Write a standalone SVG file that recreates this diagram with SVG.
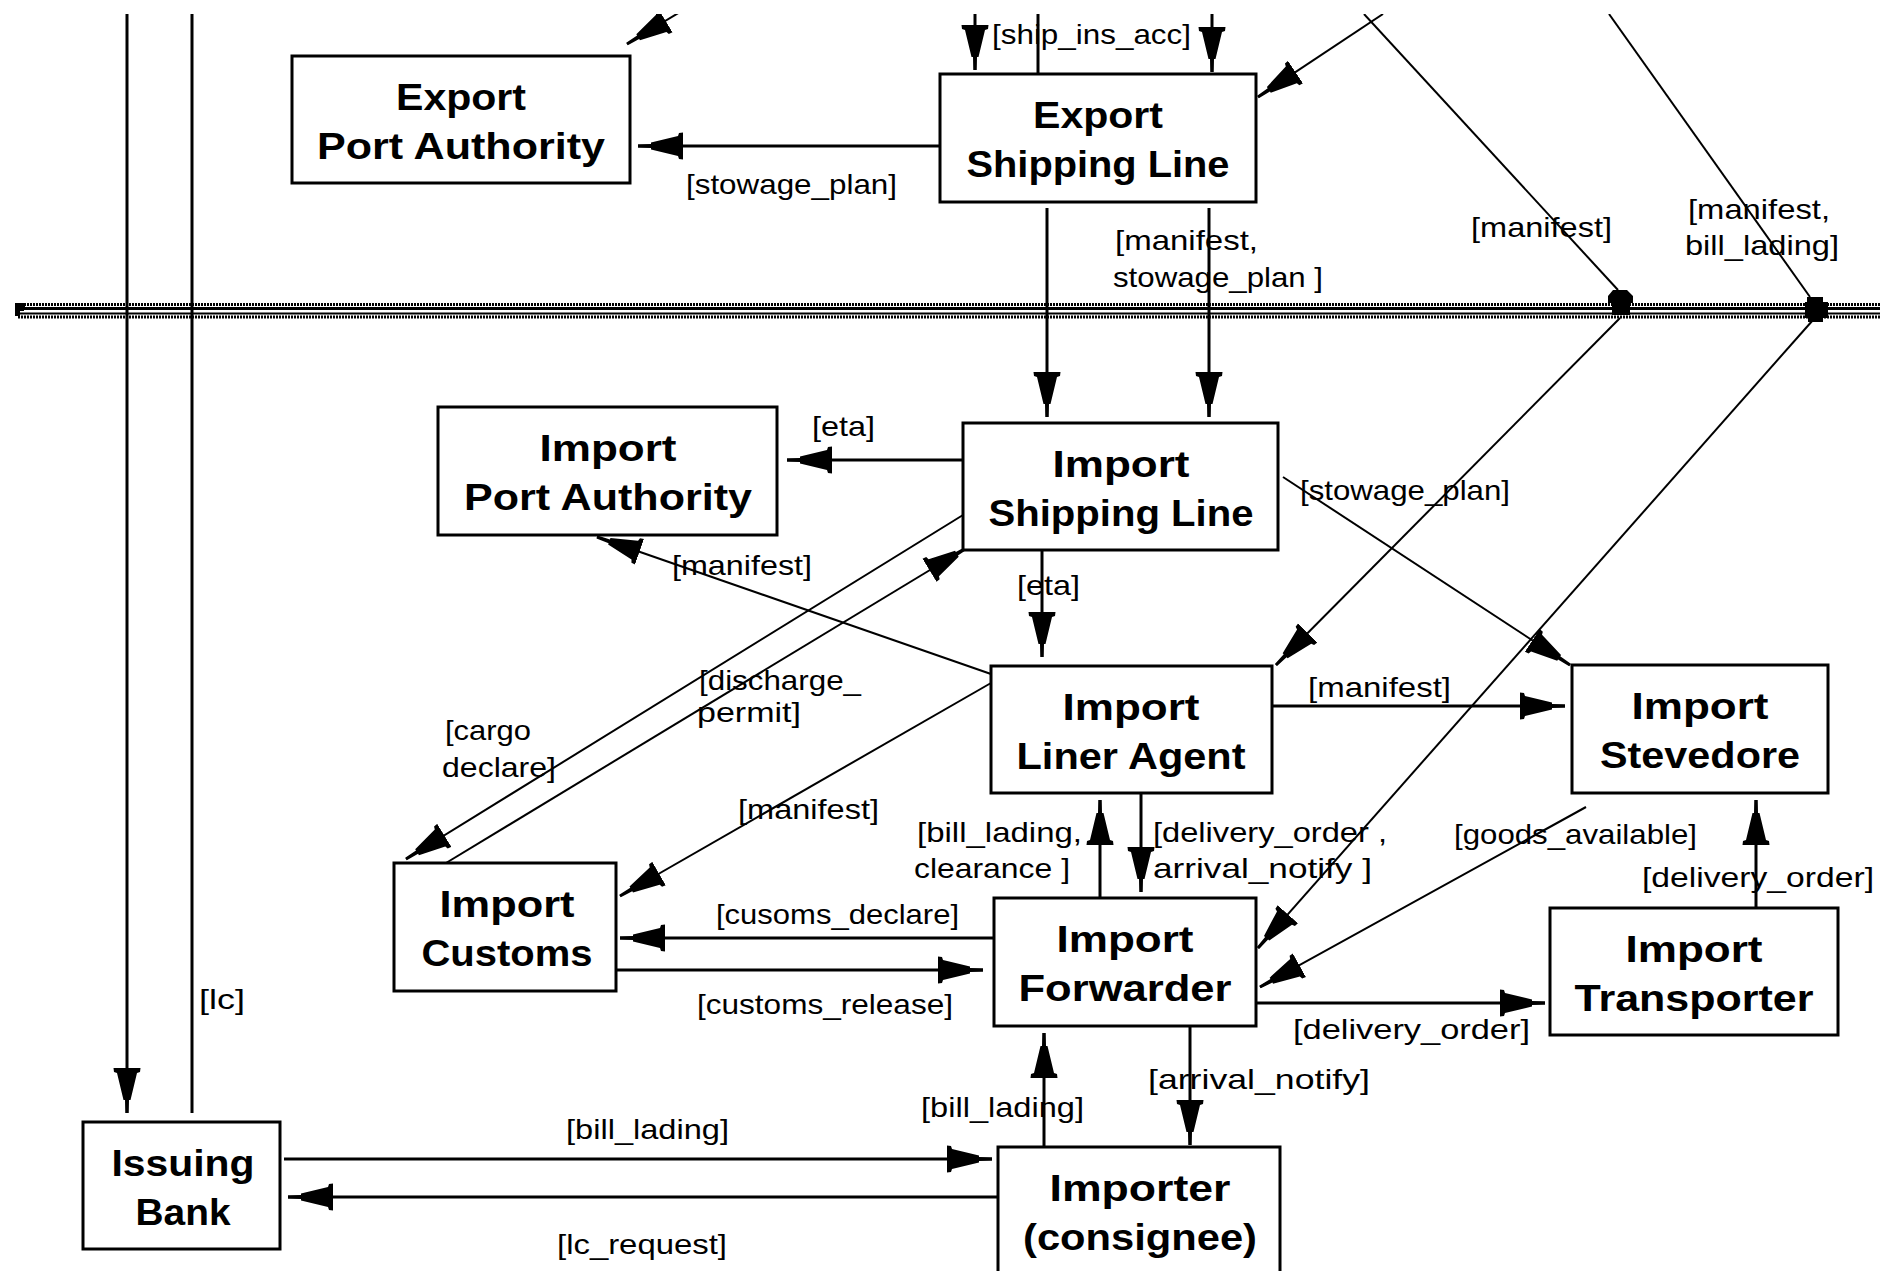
<svg xmlns="http://www.w3.org/2000/svg" width="1883" height="1271" viewBox="0 0 1883 1271">
  <style>
    .box { fill: #fff; stroke: #000; stroke-width: 3; }
    .nt { font-family: "Liberation Sans", Arial, sans-serif; font-weight: bold; font-size: 36px; text-anchor: middle; fill: #000; }
    .lb { font-family: "Liberation Sans", Arial, sans-serif; font-size: 28px; fill: #000; }
    .ln { stroke: #000; stroke-width: 3; fill: none; }
    .dg { stroke: #000; stroke-width: 2; fill: none; }
    .arr { marker-end: url(#ah); }
  </style>
  <defs>
    <marker id="ah" markerUnits="userSpaceOnUse" viewBox="0 -14 46 28" markerWidth="46" markerHeight="28" refX="45" refY="0" orient="auto">
      <path d="M0,-13.5 L4,-13 L5,-10 L32,-3.5 L32,-2 L45,-1.5 L45,1.5 L32,2 L32,3.5 L5,10 L4,13 L0,13.5 Z" fill="#000"/>
    </marker>
    <clipPath id="frame">
      <rect x="0" y="14" width="1883" height="1257"/>
    </clipPath>
  </defs>
  <rect width="1883" height="1271" fill="#fff"/>

  <!-- boundary rail -->
  <g id="rail" stroke="#000" fill="none">
    <line x1="18" y1="304.5" x2="1880" y2="304.5" stroke-width="3" stroke-dasharray="2 1"/>
    <line x1="18" y1="308.5" x2="1880" y2="308.5" stroke-width="3"/>
    <line x1="18" y1="313.5" x2="1880" y2="313.5" stroke-width="2"/>
    <line x1="18" y1="317" x2="1880" y2="317" stroke-width="3" stroke-dasharray="2 1"/>
    <path d="M15,303 H25 V307 H20 V309 H24 V311 H20 V316 H15 Z" fill="#000" stroke="none"/>
    <path d="M1613,290 H1627 L1633,296 V303 H1630 V315 H1612 V303 H1608 V296 Z" fill="#000" stroke="none"/>
    <path d="M1807,297 H1823 V302 H1828 V318 H1823 V322 H1808 V318 H1805 V302 H1807 Z" fill="#000" stroke="none"/>
  </g>

  <!-- connectors -->
  <g id="connectors" clip-path="url(#frame)">
    <path class="ln arr" d="M127,14 V1113"/>
    <path class="ln" d="M192,1113 V14"/>
    <path class="dg arr" d="M690,6 L627,44"/>
    <path class="ln arr" d="M975,14 V70"/>
    <path class="ln" d="M1038,74 V14"/>
    <path class="ln arr" d="M1212,14 V72"/>
    <path class="dg arr" d="M1383,14 L1258,97"/>
    <path class="dg" d="M1364,14 L1618,290"/>
    <path class="dg arr" d="M1620,318 L1276,665"/>
    <path class="dg" d="M1609,14 L1810,297"/>
    <path class="dg arr" d="M1813,320 L1258,948"/>
    <path class="dg arr" d="M1283,477 L1570,665"/>
    <path class="ln arr" d="M940,146 H638"/>
    <path class="ln arr" d="M1047,208 V417"/>
    <path class="ln arr" d="M1209,208 V417"/>
    <path class="ln arr" d="M963,460 H787"/>
    <path class="ln arr" d="M1042,550 V657"/>
    <path class="dg arr" d="M991,674 L597,537"/>
    <path class="dg arr" d="M963,515 L406,859"/>
    <path class="dg arr" d="M446,863 L968,547"/>
    <path class="dg arr" d="M991,683 L620,896"/>
    <path class="ln arr" d="M1272,706 H1565"/>
    <path class="ln arr" d="M1100,898 V800"/>
    <path class="ln arr" d="M1141,793 V892"/>
    <path class="ln arr" d="M994,938 H620"/>
    <path class="ln arr" d="M616,970 H983"/>
    <path class="ln arr" d="M1256,1003 H1545"/>
    <path class="ln arr" d="M1756,908 V800"/>
    <path class="dg arr" d="M1586,807 L1260,987"/>
    <path class="ln arr" d="M1190,1027 V1145"/>
    <path class="ln arr" d="M1044,1147 V1033"/>
    <path class="ln arr" d="M284,1159 H992"/>
    <path class="ln arr" d="M998,1197 H288"/>
  </g>

  <!-- nodes -->
  <g id="export-port-authority">
    <rect class="box" x="292" y="56" width="338" height="127"/>
    <text class="nt" x="461" y="110" textLength="130" lengthAdjust="spacingAndGlyphs">Export</text>
    <text class="nt" x="461" y="159" textLength="288" lengthAdjust="spacingAndGlyphs">Port Authority</text>
  </g>
  <g id="export-shipping-line">
    <rect class="box" x="940" y="74" width="316" height="128"/>
    <text class="nt" x="1098" y="128" textLength="130" lengthAdjust="spacingAndGlyphs">Export</text>
    <text class="nt" x="1098" y="177" textLength="263" lengthAdjust="spacingAndGlyphs">Shipping Line</text>
  </g>
  <g id="import-port-authority">
    <rect class="box" x="438" y="407" width="339" height="128"/>
    <text class="nt" x="608" y="461" textLength="137" lengthAdjust="spacingAndGlyphs">Import</text>
    <text class="nt" x="608" y="510" textLength="288" lengthAdjust="spacingAndGlyphs">Port Authority</text>
  </g>
  <g id="import-shipping-line">
    <rect class="box" x="963" y="423" width="315" height="127"/>
    <text class="nt" x="1121" y="477" textLength="137" lengthAdjust="spacingAndGlyphs">Import</text>
    <text class="nt" x="1121" y="526" textLength="265" lengthAdjust="spacingAndGlyphs">Shipping Line</text>
  </g>
  <g id="import-liner-agent">
    <rect class="box" x="991" y="666" width="281" height="127"/>
    <text class="nt" x="1131" y="720" textLength="137" lengthAdjust="spacingAndGlyphs">Import</text>
    <text class="nt" x="1131" y="769" textLength="229" lengthAdjust="spacingAndGlyphs">Liner Agent</text>
  </g>
  <g id="import-stevedore">
    <rect class="box" x="1572" y="665" width="256" height="128"/>
    <text class="nt" x="1700" y="719" textLength="137" lengthAdjust="spacingAndGlyphs">Import</text>
    <text class="nt" x="1700" y="768" textLength="200" lengthAdjust="spacingAndGlyphs">Stevedore</text>
  </g>
  <g id="import-customs">
    <rect class="box" x="394" y="863" width="222" height="128"/>
    <text class="nt" x="507" y="917" textLength="135" lengthAdjust="spacingAndGlyphs">Import</text>
    <text class="nt" x="507" y="966" textLength="171" lengthAdjust="spacingAndGlyphs">Customs</text>
  </g>
  <g id="import-forwarder">
    <rect class="box" x="994" y="898" width="262" height="128"/>
    <text class="nt" x="1125" y="952" textLength="137" lengthAdjust="spacingAndGlyphs">Import</text>
    <text class="nt" x="1125" y="1001" textLength="213" lengthAdjust="spacingAndGlyphs">Forwarder</text>
  </g>
  <g id="import-transporter">
    <rect class="box" x="1550" y="908" width="288" height="127"/>
    <text class="nt" x="1694" y="962" textLength="137" lengthAdjust="spacingAndGlyphs">Import</text>
    <text class="nt" x="1694" y="1011" textLength="239" lengthAdjust="spacingAndGlyphs">Transporter</text>
  </g>
  <g id="issuing-bank">
    <rect class="box" x="83" y="1122" width="197" height="127"/>
    <text class="nt" x="183" y="1176" textLength="143" lengthAdjust="spacingAndGlyphs">Issuing</text>
    <text class="nt" x="183" y="1225" textLength="95" lengthAdjust="spacingAndGlyphs">Bank</text>
  </g>
  <g id="importer">
    <rect class="box" x="998" y="1147" width="282" height="140"/>
    <text class="nt" x="1140" y="1201" textLength="181" lengthAdjust="spacingAndGlyphs">Importer</text>
    <text class="nt" x="1140" y="1250" textLength="234" lengthAdjust="spacingAndGlyphs">(consignee)</text>
  </g>

  <!-- message labels -->
  <g id="labels" class="lb" transform="translate(0,3)">
    <text x="992" y="41" textLength="199" lengthAdjust="spacingAndGlyphs">[ship_ins_acc]</text>
    <text x="686" y="191" textLength="211" lengthAdjust="spacingAndGlyphs">[stowage_plan]</text>
    <text x="1115" y="247" textLength="143" lengthAdjust="spacingAndGlyphs">[manifest,</text>
    <text x="1113" y="284" textLength="210" lengthAdjust="spacingAndGlyphs">stowage_plan ]</text>
    <text x="1471" y="234" textLength="141" lengthAdjust="spacingAndGlyphs">[manifest]</text>
    <text x="1688" y="216" textLength="142" lengthAdjust="spacingAndGlyphs">[manifest,</text>
    <text x="1685" y="252" textLength="154" lengthAdjust="spacingAndGlyphs">bill_lading]</text>
    <text x="812" y="433" textLength="63" lengthAdjust="spacingAndGlyphs">[eta]</text>
    <text x="1300" y="497" textLength="210" lengthAdjust="spacingAndGlyphs">[stowage_plan]</text>
    <text x="672" y="572" textLength="140" lengthAdjust="spacingAndGlyphs">[manifest]</text>
    <text x="1017" y="592" textLength="63" lengthAdjust="spacingAndGlyphs">[eta]</text>
    <text x="699" y="687" textLength="162" lengthAdjust="spacingAndGlyphs">[discharge_</text>
    <text x="697" y="719" textLength="104" lengthAdjust="spacingAndGlyphs">permit]</text>
    <text x="445" y="737" textLength="86" lengthAdjust="spacingAndGlyphs">[cargo</text>
    <text x="442" y="774" textLength="114" lengthAdjust="spacingAndGlyphs">declare]</text>
    <text x="738" y="816" textLength="141" lengthAdjust="spacingAndGlyphs">[manifest]</text>
    <text x="1308" y="694" textLength="143" lengthAdjust="spacingAndGlyphs">[manifest]</text>
    <text x="917" y="839" textLength="165" lengthAdjust="spacingAndGlyphs">[bill_lading,</text>
    <text x="914" y="875" textLength="156" lengthAdjust="spacingAndGlyphs">clearance ]</text>
    <text x="1153" y="839" textLength="234" lengthAdjust="spacingAndGlyphs">[delivery_order ,</text>
    <text x="1153" y="875" textLength="219" lengthAdjust="spacingAndGlyphs">arrival_notify ]</text>
    <text x="1454" y="841" textLength="243" lengthAdjust="spacingAndGlyphs">[goods_available]</text>
    <text x="1642" y="884" textLength="232" lengthAdjust="spacingAndGlyphs">[delivery_order]</text>
    <text x="716" y="921" textLength="243" lengthAdjust="spacingAndGlyphs">[cusoms_declare]</text>
    <text x="697" y="1011" textLength="256" lengthAdjust="spacingAndGlyphs">[customs_release]</text>
    <text x="1293" y="1036" textLength="237" lengthAdjust="spacingAndGlyphs">[delivery_order]</text>
    <text x="1148" y="1086" textLength="222" lengthAdjust="spacingAndGlyphs">[arrival_notify]</text>
    <text x="921" y="1114" textLength="163" lengthAdjust="spacingAndGlyphs">[bill_lading]</text>
    <text x="566" y="1136" textLength="163" lengthAdjust="spacingAndGlyphs">[bill_lading]</text>
    <text x="557" y="1251" textLength="170" lengthAdjust="spacingAndGlyphs">[lc_request]</text>
    <text x="199" y="1006" textLength="46" lengthAdjust="spacingAndGlyphs">[lc]</text>
  </g>
</svg>
